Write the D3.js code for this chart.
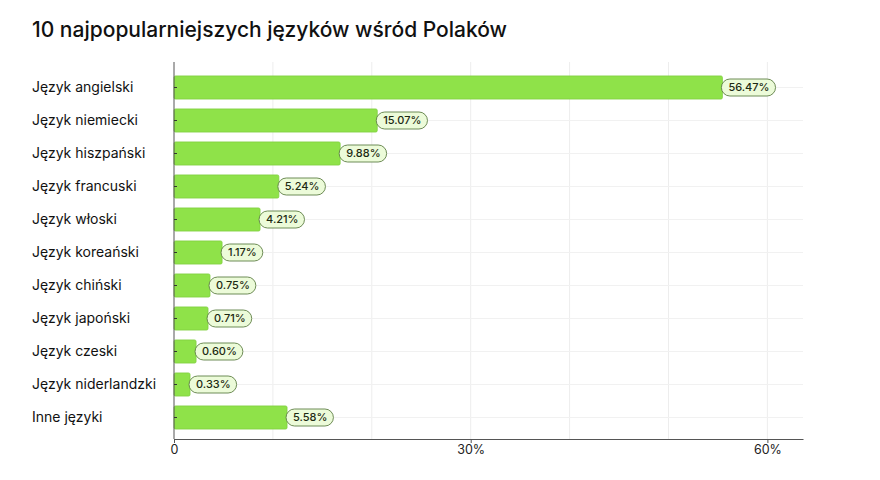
<!DOCTYPE html>
<html>
<head>
<meta charset="utf-8">
<script src="https://cdn.jsdelivr.net/npm/d3@7"></script>
<style>
  body { margin: 0; background: #fff; }
  svg text { font-family: "Inter", "Noto Sans", sans-serif; }
</style>
</head>
<body>
<div id="chart"></div>
<script>
// jezyki (kategorie), od gory
var languages = ["Język angielski", "Język niemiecki", "Język hiszpański", "Język francuski",
  "Język włoski", "Język koreański", "Język chiński", "Język japoński", "Język czeski",
  "Język niderlandzki", "Inne języki"];
// etykiety procentowe na koncach slupkow
var shareLabels = ["56.47%", "15.07%", "9.88%", "5.24%", "4.21%", "1.17%", "0.75%", "0.71%", "0.60%", "0.33%", "5.58%"];
var barLengths = [55.45, 20.55, 16.8, 10.6, 8.7, 4.86, 3.64, 3.44, 2.23, 1.62, 11.43];
var xTicks = [0, 30, 60];
var gridTicks = [10, 20, 30, 40, 50, 60];

var W = 880, H = 480;
var svg = d3.select('#chart').append('svg').attr('width', W).attr('height', H);

// tytul
svg.append('text').attr('x', 32).attr('y', 37)
  .attr('font-size', 21).attr('font-weight', 500).attr('fill', '#111')
  .text('10 najpopularniejszych języków wśród Polaków');

var x = d3.scaleLinear().domain([0, 63.6]).range([174, 803]);
var y = d3.scaleBand().domain(languages).range([71, 434]).paddingInner(0.3).paddingOuter(0.15);

// siatka
svg.append('g').selectAll('line.v').data(gridTicks).enter().append('line')
  .attr('x1', function(d){ return x(d); }).attr('x2', function(d){ return x(d); })
  .attr('y1', 62).attr('y2', 439)
  .style('stroke', '#ededed').style('stroke-width', 1);
svg.append('g').selectAll('line.h').data(languages).enter().append('line')
  .attr('x1', 174).attr('x2', 803)
  .attr('y1', function(d){ return y(d) + y.bandwidth()/2; })
  .attr('y2', function(d){ return y(d) + y.bandwidth()/2; })
  .style('stroke', '#f1f1f1').style('stroke-width', 1);

// slupki
svg.append('g').selectAll('rect').data(languages).enter().append('rect')
  .attr('x', x(0))
  .attr('y', function(d){ return y(d); })
  .attr('width', function(d, i){ return x(barLengths[i]) - x(0); })
  .attr('height', y.bandwidth())
  .attr('rx', 1.5)
  .style('fill', '#8fe249')
  .style('stroke', '#7fcf3e').style('stroke-width', 0.8);

// os Y
var yAxis = svg.append('g').attr('transform', 'translate(174,0)')
  .call(d3.axisLeft(y).tickSizeInner(-3).tickSizeOuter(0).tickPadding(0).tickFormat(''));
yAxis.select('.domain').attr('d', 'M0,62V439').style('stroke', '#555');
yAxis.selectAll('.tick line').style('stroke', '#333');

svg.append('g').selectAll('text').data(languages).enter().append('text')
  .attr('x', 32)
  .attr('y', function(d){ return y(d) + y.bandwidth()/2; })
  .attr('dy', '0.35em')
  .attr('font-size', 14).attr('fill', '#111')
  .text(function(d){ return d; });

// os X
var xAxis = svg.append('g').attr('transform', 'translate(0,439)')
  .call(d3.axisBottom(x).tickValues(xTicks).tickSizeInner(4).tickSizeOuter(0)
    .tickFormat(function(d){ return d === 0 ? '0' : d + '%'; }));
xAxis.select('.domain').style('stroke', '#555').style('stroke-width', 1.2);
xAxis.selectAll('.tick line').style('stroke', '#555');
xAxis.selectAll('.tick text').attr('font-size', 12.5).attr('fill', '#222')
  .attr('font-family', '"Inter", "Noto Sans", sans-serif').attr('y', 6).attr('dy', '0.71em');

// etykiety (pigulki)
var pills = svg.append('g').selectAll('g').data(languages).enter().append('g')
  .attr('transform', function(d, i){
    return 'translate(' + (x(barLengths[i]) - 1) + ',' + (y(d) + y.bandwidth()/2) + ')';
  });
pills.each(function(d, i){
  var g = d3.select(this);
  var rect = g.append('rect');
  var t = g.append('text')
    .attr('x', 7).attr('dy', '0.35em')
    .attr('font-size', 11).attr('font-weight', 500).attr('fill', '#1d2a12')
    .text(shareLabels[i]);
  var w = t.node().getComputedTextLength() + 13;
  rect.attr('x', 0).attr('y', -8.5).attr('width', w).attr('height', 17)
    .attr('rx', 8.5)
    .style('fill', '#ecfbd9').style('stroke', '#5f7f45').style('stroke-width', 0.9);
});
</script>
</body>
</html>
